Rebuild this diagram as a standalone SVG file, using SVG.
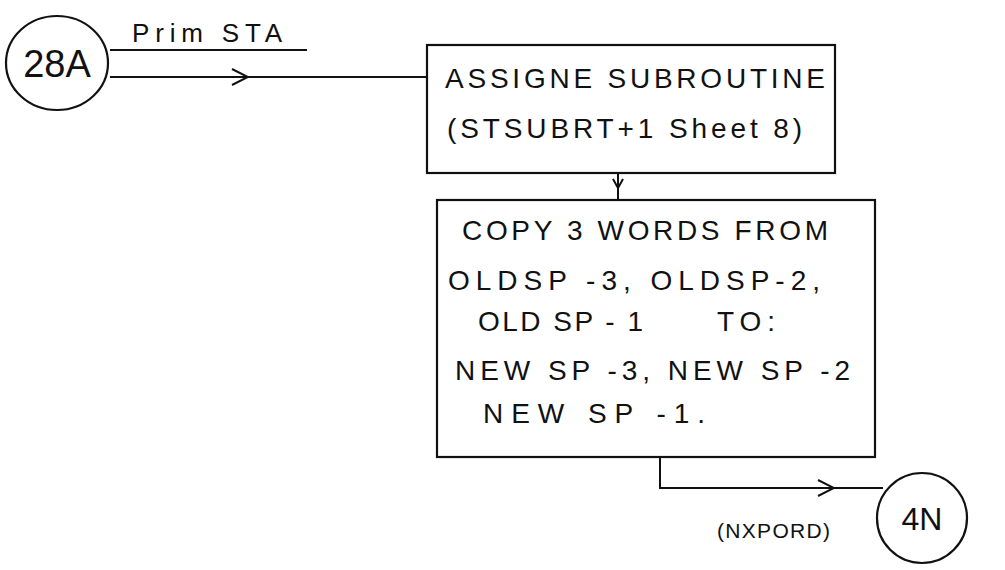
<svg xmlns="http://www.w3.org/2000/svg" width="1005" height="570" viewBox="0 0 1005 570">
<style>
.bg{fill:#ffffff}
.shape{fill:none;stroke:#111;stroke-width:2.2}
.conn{fill:none;stroke:#111;stroke-width:2}
.t{font-family:"Liberation Sans","DejaVu Sans",sans-serif;fill:#111;font-size:28px}
.lbl{font-family:"Liberation Sans","DejaVu Sans",sans-serif;fill:#111;font-size:26px}
.sm{font-family:"Liberation Sans","DejaVu Sans",sans-serif;fill:#111;font-size:21px}
.big{font-family:"Liberation Sans","DejaVu Sans",sans-serif;fill:#111;font-size:38px}
</style>
<defs>
<marker id="chev" viewBox="0 0 12 12" refX="10" refY="6" markerWidth="12" markerHeight="12" markerUnits="userSpaceOnUse" orient="auto">
<path d="M1,1 L10,6 L1,11" fill="none" stroke="#111" stroke-width="2"/>
</marker>
<marker id="chevL" viewBox="0 0 20 20" refX="18" refY="10" markerWidth="20" markerHeight="20" markerUnits="userSpaceOnUse" orient="auto">
<path d="M2,2 L18,10 L2,18" fill="none" stroke="#111" stroke-width="2"/>
</marker>
</defs>
<rect class="bg" x="0" y="0" width="1005" height="570"/>

<g id="connectors">
<path class="conn" d="M110,77 L248,77" marker-end="url(#chevL)"/>
<line class="conn" x1="248" y1="77" x2="427" y2="77"/>
<line class="conn" x1="110" y1="50" x2="307" y2="50"/>
<path class="conn" d="M618,173 L618,188" marker-end="url(#chev)"/>
<line class="conn" x1="618" y1="188" x2="618" y2="200"/>
<path class="conn" d="M660,457 L660,488 L834,488" marker-end="url(#chevL)"/>
<line class="conn" x1="834" y1="488" x2="883" y2="488"/>
</g>

<g id="label-prim">
<text class="lbl" x="132" y="42" textLength="150" lengthAdjust="spacing">Prim STA</text>
</g>

<g id="node-28A">
<ellipse class="shape" cx="57" cy="63" rx="51" ry="47"/>
<text class="big" x="57" y="77" text-anchor="middle">28A</text>
</g>

<g id="node-assign">
<rect class="shape" x="427" y="45" width="408" height="128"/>
<text class="t" x="445" y="88" textLength="380" lengthAdjust="spacing">ASSIGNE  SUBROUTINE</text>
<text class="t" x="447" y="138" textLength="355" lengthAdjust="spacing">(STSUBRT+1  Sheet 8)</text>
</g>

<g id="node-copy">
<rect class="shape" x="437" y="200" width="438" height="257"/>
<text class="t" x="462" y="240" textLength="366" lengthAdjust="spacing">COPY  3  WORDS  FROM</text>
<text class="t" x="448" y="290" textLength="372" lengthAdjust="spacing">OLDSP -3, OLDSP-2,</text>
<text class="t" x="478" y="331" textLength="165" lengthAdjust="spacing">OLD SP - 1</text>
<text class="t" x="717" y="331" textLength="58" lengthAdjust="spacing">TO:</text>
<text class="t" x="455" y="380" textLength="395" lengthAdjust="spacing">NEW SP -3, NEW SP -2</text>
<text class="t" x="483" y="423" textLength="222" lengthAdjust="spacing">NEW SP -1.</text>
</g>

<g id="label-nxpord">
<text class="sm" x="717" y="538" textLength="113" lengthAdjust="spacing">(NXPORD)</text>
</g>

<g id="node-4N">
<circle class="shape" cx="922" cy="518" r="45"/>
<text class="big" x="922" y="530" text-anchor="middle" style="font-size:32px">4N</text>
</g>
</svg>
